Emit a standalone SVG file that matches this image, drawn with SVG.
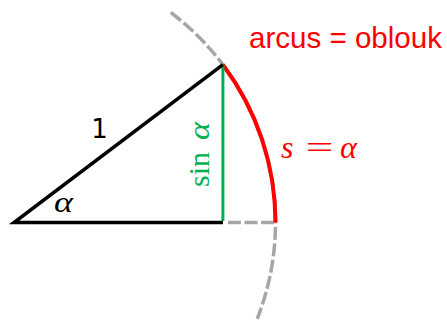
<svg xmlns="http://www.w3.org/2000/svg" width="447" height="322" viewBox="0 0 447 322">
  <style>
    .guide { fill: none; stroke: #A6A6A6; stroke-width: 3.5; stroke-dasharray: 13 3.5; }
    .sans { font-family: "Liberation Sans", Arial, sans-serif; }
    .serif { font-family: "Liberation Serif", "Times New Roman", serif; }
    .it { font-style: italic; }
    .red { fill: #FF0000; }
    .green { fill: #00B050; }
    .black { fill: #000000; }
  </style>
  <rect width="447" height="322" fill="#FFFFFF"/>
  <g id="guides">
    <path class="guide" d="M170.8,12.5 A263,263 0 0 1 257.2,318.9"/>
    <path class="guide" d="M228,222.5 H275"/>
  </g>
  <g id="arc">
    <path d="M222.9,64.7 A263,263 0 0 1 275.5,222.5" fill="none" stroke="#FF0000" stroke-width="4"/>
  </g>
  <g id="sine">
    <line x1="222.9" y1="64.7" x2="222.9" y2="221" stroke="#00B050" stroke-width="3"/>
  </g>
  <g id="triangle">
    <path d="M222.9,64.7 L14,222.5 L222.9,222.5" fill="none" stroke="#000000" stroke-width="3.5" stroke-linejoin="miter"/>
  </g>
  <g id="labels">
    <text class="sans red" x="249" y="47.5" font-size="30" textLength="193" lengthAdjust="spacingAndGlyphs">arcus = oblouk</text>
    <text class="black" x="99.5" y="138.3" font-size="26" text-anchor="middle" font-family="'DejaVu Sans', sans-serif">1</text>
    <text class="serif it black" x="54" y="211.7" font-size="30" textLength="19" lengthAdjust="spacingAndGlyphs">α</text>
    <text class="serif it red" x="281" y="158.3" font-size="32">s</text>
    <text class="serif red" x="305.5" y="158.3" font-size="32" textLength="28" lengthAdjust="spacingAndGlyphs">=</text>
    <text class="serif it red" x="340" y="158.3" font-size="32" textLength="17" lengthAdjust="spacingAndGlyphs">α</text>
    <g transform="translate(209,0) rotate(-90)">
      <text class="serif green" x="-187" y="0" font-size="30" textLength="35" lengthAdjust="spacingAndGlyphs">sin</text>
      <text class="serif it green" x="-140" y="0" font-size="30" textLength="18" lengthAdjust="spacingAndGlyphs">α</text>
    </g>
  </g>
</svg>
